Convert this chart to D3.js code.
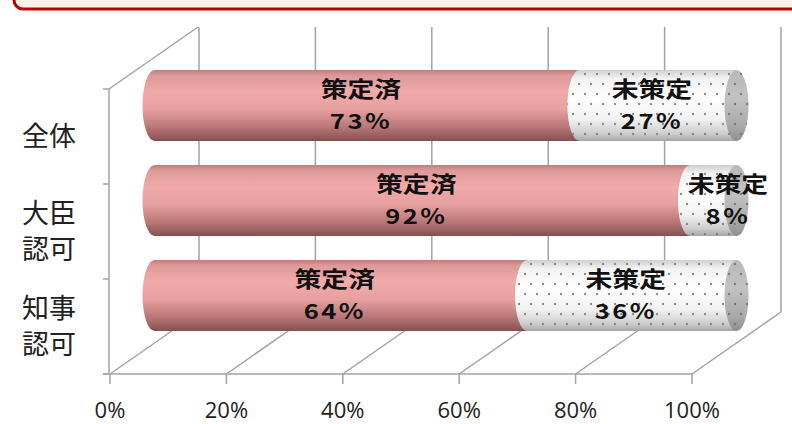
<!DOCTYPE html>
<html>
<head>
<meta charset="utf-8">
<script src="https://cdn.jsdelivr.net/npm/d3@7"></script>
<style>
  html, body { margin: 0; padding: 0; background: #fff; }
  svg { display: block; }
</style>
</head>
<body>
<svg id="chart" width="792" height="424"></svg>
<script>
// ---- data ----
const categories = ["全体", "大臣認可", "知事認可"];
const categoryLines = [["全体"], ["大臣", "認可"], ["知事", "認可"]];
const seriesNames = ["策定済", "未策定"];
const adopted = [0.73, 0.92, 0.64];
const notAdopted = [0.27, 0.08, 0.36];
const tickValues = [0, 0.2, 0.4, 0.6, 0.8, 1.0];

// ---- layout ----
const W = 792, H = 424;
const svg = d3.select("#chart");
const defs = svg.append("defs");

const x = d3.scaleLinear().domain([0, 1]).range([110, 692]);
const y = d3.scaleBand().domain(categories).range([89, 374]).padding(0);
const depth = { dx: 89, dy: -62 };
const fmt = d3.format(".0%");
const gridColor = "#a3a3a3";

// top red frame (partial)
svg.append("rect")
  .attr("x", 14).attr("y", -30).attr("width", 800).attr("height", 39)
  .attr("rx", 9).attr("fill", "#fdefe9").attr("stroke", "#c00000").attr("stroke-width", 3);

// gradients
function vGrad(id, stops) {
  const g = defs.append("linearGradient").attr("id", id)
    .attr("x1", 0).attr("y1", 0).attr("x2", 0).attr("y2", 1);
  stops.forEach(s => g.append("stop").attr("offset", s[0]).attr("stop-color", s[1]));
}
vGrad("pinkGrad", [[0, "#c07d7d"], [0.08, "#dc9a9a"], [0.3, "#f2aaaa"], [0.55, "#e7a0a0"], [0.8, "#bb7878"], [1, "#855050"]]);
vGrad("dotGrad", [[0, "#cfcfcf"], [0.12, "#f2f2f2"], [0.4, "#ffffff"], [0.7, "#f1f1f1"], [0.9, "#cdcdcd"], [1, "#a5a5a5"]]);
vGrad("capGrad", [[0, "#b8b8b8"], [0.4, "#c2c2c2"], [0.8, "#a8a8a8"], [1, "#8f8f8f"]]);

const pat = defs.append("pattern").attr("id", "dots")
  .attr("patternUnits", "userSpaceOnUse").attr("width", 12).attr("height", 20);
pat.append("circle").attr("cx", 3).attr("cy", 4).attr("r", 1.2).attr("fill", "#7a7a7a");
pat.append("circle").attr("cx", 9).attr("cy", 14).attr("r", 1.2).attr("fill", "#7a7a7a");

const gGrid = svg.append("g").attr("fill", "none").attr("stroke", gridColor).attr("stroke-width", 1.5);

const frontTop = y.range()[0], frontBot = y.range()[1];
// back wall vertical gridlines + floor lines
tickValues.forEach(v => {
  gGrid.append("line")
    .attr("x1", x(v) + depth.dx).attr("y1", frontTop + depth.dy)
    .attr("x2", x(v) + depth.dx).attr("y2", frontBot + depth.dy);
  gGrid.append("line")
    .attr("x1", x(v)).attr("y1", frontBot)
    .attr("x2", x(v) + depth.dx).attr("y2", frontBot + depth.dy);
});
// left wall top edge
gGrid.append("line")
  .attr("x1", x(0) - 1).attr("y1", frontTop)
  .attr("x2", x(0) - 1 + depth.dx).attr("y2", frontTop + depth.dy);

// front axes
gGrid.append("line").attr("x1", x(0) - 1).attr("y1", frontTop).attr("x2", x(0) - 1).attr("y2", frontBot);
gGrid.append("line").attr("x1", x(0)).attr("y1", frontBot).attr("x2", x(1)).attr("y2", frontBot);
[frontTop, ...categories.map(c => y(c) + y.bandwidth()), frontBot].forEach(t => {
  gGrid.append("line").attr("x1", x(0) - 7).attr("y1", t).attr("x2", x(0) - 1).attr("y2", t);
});
tickValues.forEach(v => {
  gGrid.append("line").attr("x1", x(v)).attr("y1", frontBot).attr("x2", x(v)).attr("y2", frontBot + 10);
});

// tick labels
svg.append("g").selectAll("text").data(tickValues).join("text")
  .attr("x", d => x(d)).attr("y", 418)
  .attr("text-anchor", "middle")
  .attr("font-family", "'Open Sans', 'Liberation Sans', sans-serif")
  .attr("font-size", 22).attr("fill", "#222")
  .text(d => fmt(d));

// category labels
const catG = svg.append("g");
categories.forEach((c, i) => {
  const lines = categoryLines[i];
  const cy = y(c) + y.bandwidth() / 2 - 2;
  const lh = 36;
  lines.forEach((ln, j) => {
    catG.append("text")
      .attr("x", 22).attr("y", cy + (j - (lines.length - 1) / 2) * lh)
      .attr("dominant-baseline", "central")
      .attr("font-family", "'Noto Sans CJK JP', sans-serif")
      .attr("font-size", 27).attr("fill", "#222")
      .text(ln);
  });
});

// bars (cylinders)
const xb = v => x(v) + depth.dx / 2;
const hh = 35.5, rx = 12;
function segPath(a, b, cy) {
  const xa = xb(a), xe = xb(b), t = cy - hh, bo = cy + hh;
  return `M${xa},${t} L${xe},${t} A${rx},${hh} 0 0 1 ${xe},${bo} L${xa},${bo} A${rx},${hh} 0 0 1 ${xa},${t} Z`;
}
const barG = svg.append("g");
categories.forEach((c, i) => {
  const cy = y(c) + y.bandwidth() / 2 + depth.dy / 2;
  const segs = [
    { name: seriesNames[0], a: 0, b: adopted[i], v: adopted[i], fill: "url(#pinkGrad)", dots: false },
    { name: seriesNames[1], a: adopted[i], b: adopted[i] + notAdopted[i], v: notAdopted[i], fill: "url(#dotGrad)", dots: true }
  ];
  segs.forEach(s => {
    barG.append("path").attr("d", segPath(s.a, s.b, cy)).attr("fill", s.fill);
    if (s.dots) barG.append("path").attr("d", segPath(s.a, s.b, cy)).attr("fill", "url(#dots)").attr("opacity", 0.85);
  });
  const last = segs[segs.length - 1];
  barG.append("ellipse").attr("cx", xb(last.b)).attr("cy", cy).attr("rx", rx).attr("ry", hh)
    .attr("fill", "url(#capGrad)");
  barG.append("ellipse").attr("cx", xb(last.b)).attr("cy", cy).attr("rx", rx).attr("ry", hh)
    .attr("fill", "url(#dots)");

  segs.forEach(s => {
    const mid = (xb(s.a) + xb(s.b)) / 2 - 6;
    const cx = Math.max(mid, xb(s.a) + 38);
    const lbl = barG.append("g").attr("font-family", "'Noto Sans CJK JP', sans-serif")
      .attr("font-weight", "bold").attr("fill", "#111").attr("text-anchor", "middle");
    lbl.append("text").attr("transform", `translate(${cx},${cy - 18}) scale(1.22,1)`)
      .attr("dominant-baseline", "central").attr("font-size", 22).text(s.name);
    lbl.append("text").attr("transform", `translate(${cx},${cy + 15}) scale(1.22,1)`)
      .attr("dominant-baseline", "central").attr("font-size", 21).attr("letter-spacing", 2)
      .text(fmt(s.v));
  });
});
</script>
</body>
</html>
